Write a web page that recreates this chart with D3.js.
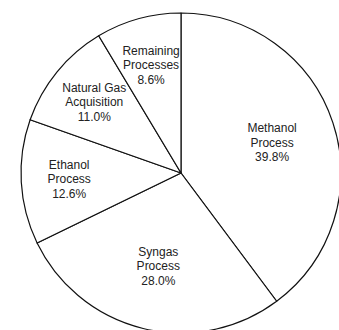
<!DOCTYPE html>
<html>
<head>
<meta charset="utf-8">
<script src="https://cdn.jsdelivr.net/npm/d3@7"></script>
<style>
  body { margin: 0; background: #fff; }
  svg { display: block; }
  text { font-family: "Liberation Sans", Arial, sans-serif; font-size: 12px; fill: #222; }
</style>
</head>
<body>
<svg id="chart"></svg>
<script>
// slice data, clockwise from 12 o'clock
var names = [["Methanol", "Process"], ["Syngas", "Process"], ["Ethanol", "Process"], ["Natural Gas", "Acquisition"], ["Remaining", "Processes"]];
var shares = [39.8, 28.0, 12.6, 11.0, 8.6];

var width = 339,
    height = 330,
    cx = 181,
    cy = 173,
    radius = 160,
    line_h = 14.5;

var svg = d3.select("#chart")
    .attr("width", width)
    .attr("height", height);

var slices = shares.map(function(v, i) { return { name: names[i], value: v }; });

var pie = d3.pie()
    .sort(null)
    .value(function(d) { return d.value; });

var arc = d3.arc().innerRadius(0).outerRadius(radius);

var g = svg.append("g").attr("transform", "translate(" + cx + "," + cy + ")");

var arcs = pie(slices);

g.selectAll("path")
    .data(arcs)
    .enter().append("path")
    .attr("d", arc)
    .attr("fill", "#fff")
    .attr("stroke", "#111")
    .attr("stroke-width", 1.2)
    .attr("stroke-linejoin", "round");

// big slices get labels a bit nearer the middle
function labelPos(d) {
    var r = d.data.value > 20 ? radius * 0.6 : radius * 0.7;
    var a = (d.startAngle + d.endAngle) / 2;
    return [Math.sin(a) * r, -Math.cos(a) * r];
}

var label = g.selectAll("text.lbl")
    .data(arcs)
    .enter().append("text")
    .attr("class", "lbl")
    .attr("text-anchor", "middle")
    .attr("transform", function(d) { return "translate(" + labelPos(d) + ")"; });

label.each(function(d) {
    var lines = d.data.name.concat([d.data.value.toFixed(1) + "%"]);
    var t = d3.select(this);
    lines.forEach(function(s, i) {
        t.append("tspan")
            .attr("x", 0)
            .attr("y", (i - 1) * line_h)
            .attr("dominant-baseline", "central")
            .text(s);
    });
});
</script>
</body>
</html>
